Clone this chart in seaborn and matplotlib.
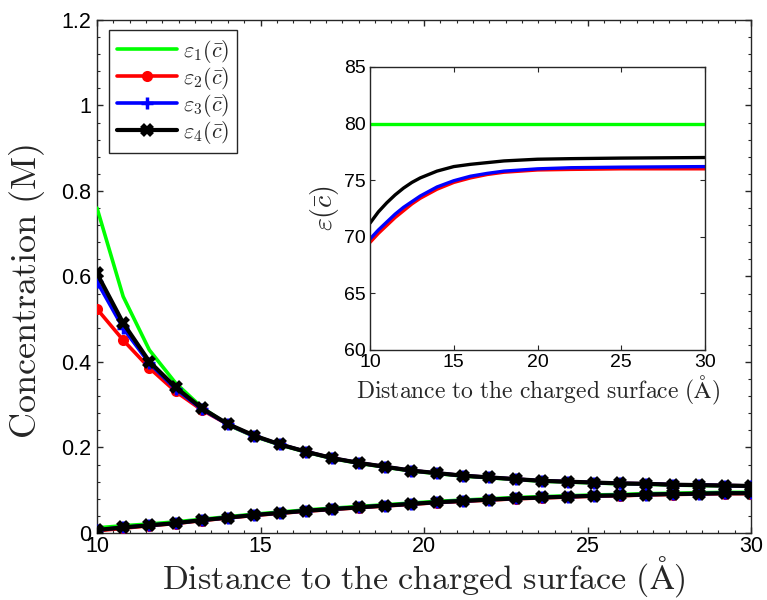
import numpy as np
import pandas as pd
import matplotlib
matplotlib.use("Agg")
import matplotlib.pyplot as plt
import seaborn as sns
from matplotlib.ticker import MultipleLocator, FuncFormatter

# ---------------- data ----------------
distance = [10.0, 10.8, 11.6, 12.4, 13.2, 14.0, 14.8, 15.6, 16.4, 17.2, 18.0, 18.8, 19.6,
            20.4, 21.2, 22.0, 22.8, 23.6, 24.4, 25.2, 26.0, 26.8, 27.6, 28.4, 29.2, 30.0]

counter_eps1 = [0.760, 0.553, 0.428, 0.351, 0.294, 0.253, 0.226, 0.206, 0.189, 0.174, 0.163, 0.154, 0.145,
                0.139, 0.133, 0.129, 0.125, 0.121, 0.119, 0.117, 0.115, 0.114, 0.112, 0.111, 0.110, 0.109]
counter_eps2 = [0.524, 0.451, 0.386, 0.331, 0.288, 0.254, 0.227, 0.207, 0.190, 0.175, 0.164, 0.155, 0.146,
                0.140, 0.134, 0.130, 0.126, 0.122, 0.120, 0.118, 0.116, 0.115, 0.113, 0.112, 0.111, 0.110]
counter_eps3 = [0.588, 0.479, 0.397, 0.337, 0.290, 0.254, 0.227, 0.207, 0.190, 0.175, 0.164, 0.155, 0.146,
                0.140, 0.134, 0.130, 0.126, 0.122, 0.120, 0.118, 0.116, 0.115, 0.113, 0.112, 0.111, 0.110]
counter_eps4 = [0.607, 0.491, 0.401, 0.341, 0.292, 0.255, 0.228, 0.207, 0.190, 0.175, 0.164, 0.155, 0.146,
                0.140, 0.134, 0.130, 0.126, 0.122, 0.120, 0.118, 0.116, 0.115, 0.113, 0.112, 0.111, 0.110]

co_eps1 = [0.012, 0.017, 0.021, 0.026, 0.032, 0.038, 0.044, 0.049, 0.054, 0.058, 0.062, 0.066, 0.070,
           0.074, 0.077, 0.080, 0.083, 0.085, 0.087, 0.089, 0.090, 0.092, 0.093, 0.094, 0.095, 0.095]
co_eps2 = [0.005, 0.011, 0.017, 0.022, 0.029, 0.035, 0.041, 0.046, 0.051, 0.055, 0.059, 0.063, 0.067,
           0.071, 0.074, 0.077, 0.080, 0.082, 0.084, 0.086, 0.087, 0.089, 0.090, 0.091, 0.092, 0.092]
co_eps3 = [0.007, 0.013, 0.018, 0.023, 0.030, 0.036, 0.042, 0.047, 0.052, 0.056, 0.060, 0.064, 0.068,
           0.072, 0.075, 0.078, 0.081, 0.083, 0.085, 0.087, 0.088, 0.090, 0.091, 0.092, 0.093, 0.093]
co_eps4 = [0.007, 0.013, 0.018, 0.023, 0.030, 0.036, 0.042, 0.047, 0.052, 0.056, 0.060, 0.064, 0.068,
           0.072, 0.075, 0.078, 0.081, 0.083, 0.085, 0.087, 0.088, 0.090, 0.091, 0.092, 0.093, 0.093]

inset_distance = [10, 10.5, 11, 11.5, 12, 12.5, 13, 14, 15, 16, 17, 18, 20, 22, 25, 30]
perm_eps1 = [80.0] * len(inset_distance)
perm_eps2 = [69.5, 70.3, 71.0, 71.7, 72.3, 72.9, 73.4, 74.2, 74.8, 75.2, 75.5, 75.7, 75.9, 75.95, 76.0, 76.0]
perm_eps3 = [69.8, 70.6, 71.3, 72.0, 72.6, 73.1, 73.6, 74.4, 74.95, 75.35, 75.6, 75.8, 76.0, 76.1, 76.15, 76.2]
perm_eps4 = [71.2, 72.2, 73.0, 73.7, 74.3, 74.8, 75.2, 75.8, 76.2, 76.4, 76.55, 76.7, 76.85, 76.9, 76.95, 77.0]

labels = [r'$\varepsilon_1(\bar{c})$', r'$\varepsilon_2(\bar{c})$',
          r'$\varepsilon_3(\bar{c})$', r'$\varepsilon_4(\bar{c})$']
colors = ['#00ff00', '#ff0000', '#0000ff', '#000000']

# ---------------- style ----------------
sns.set_theme(style='ticks')
plt.rcParams['font.family'] = ['Liberation Sans', 'DejaVu Sans']
plt.rcParams['mathtext.fontset'] = 'cm'
axcol = '#262626'
plt.rcParams.update({
    'axes.edgecolor': axcol, 'axes.linewidth': 1.0,
    'xtick.color': axcol, 'ytick.color': axcol,
    'xtick.labelcolor': 'black', 'ytick.labelcolor': 'black',
    'xtick.direction': 'in', 'ytick.direction': 'in',
})

fig = plt.figure(figsize=(7.67, 6.0), dpi=100)
ax = fig.add_axes([0.1265, 0.1117, 0.8527, 0.855])

styles = [dict(marker=None),
          dict(marker='o', markersize=8, markeredgewidth=0),
          dict(marker='+', markersize=9, markeredgewidth=2.5),
          dict(marker='x', markersize=7, markeredgewidth=4)]
lws = [2.6, 2.6, 2.6, 3.0]
counters = [counter_eps1, counter_eps2, counter_eps3, counter_eps4]
cos = [co_eps1, co_eps2, co_eps3, co_eps4]

handles = []
for i in range(4):
    df_up = pd.DataFrame({'x': distance, 'y': counters[i]})
    df_lo = pd.DataFrame({'x': distance, 'y': cos[i]})
    for j, df in enumerate([df_up, df_lo]):
        sns.lineplot(data=df, x='x', y='y', ax=ax, color=colors[i], lw=lws[i],
                     sort=False, zorder=3 + i, markeredgecolor=colors[i],
                     markerfacecolor=colors[i], **styles[i])
        if j == 0:
            handles.append(ax.lines[-1])

ax.set_xlim(10, 30)
ax.set_ylim(0, 1.2)
ax.xaxis.set_major_locator(MultipleLocator(5))
ax.xaxis.set_minor_locator(MultipleLocator(0.5))
ax.yaxis.set_major_locator(MultipleLocator(0.2))
ax.yaxis.set_minor_locator(MultipleLocator(0.04))
ax.yaxis.set_major_formatter(FuncFormatter(lambda v, p: ('%g' % round(v, 2))))
ax.tick_params(which='both', top=True, right=True)
ax.tick_params(which='major', length=4.5, width=1, labelsize=15.5, pad=4)
ax.tick_params(axis='x', which='major', pad=2.5)
ax.tick_params(which='minor', length=2.5, width=0.8)
for s in ax.spines.values():
    s.set_visible(True)
ax.set_xlabel(r'$\mathrm{Distance\ to\ the\ charged\ surface\ (\AA)}$', fontsize=24.5)
ax.xaxis.label.set_va('baseline')
ax.xaxis.set_label_coords(0.5, -0.109)
ax.set_ylabel(r'$\mathrm{Concentration\ (M)}$', fontsize=26)
ax.yaxis.set_label_coords(-0.076, 0.47)

leg = ax.legend(handles, labels, loc='upper left', bbox_to_anchor=(0.019, 0.981),
                fontsize=16, frameon=True, fancybox=False, framealpha=1,
                edgecolor=axcol, handlelength=2.7, borderpad=0.35, labelspacing=0.0,
                handletextpad=0.25, borderaxespad=0)
leg.get_frame().set_linewidth(1.0)

# ---------------- inset ----------------
ins = fig.add_axes([0.4824, 0.4167, 0.4368, 0.4717])
perms = [perm_eps1, perm_eps2, perm_eps3, perm_eps4]
for i in [0, 1, 2, 3]:
    df = pd.DataFrame({'x': inset_distance, 'y': perms[i]})
    sns.lineplot(data=df, x='x', y='y', ax=ins, color=colors[i], lw=2.4, sort=False)
ins.set_xlim(10, 30)
ins.set_ylim(60, 85)
ins.xaxis.set_major_locator(MultipleLocator(5))
ins.yaxis.set_major_locator(MultipleLocator(5))
ins.tick_params(which='both', top=True, right=True)
ins.tick_params(which='major', length=3.5, width=0.8, labelsize=14, pad=3)
ins.set_xlabel(r'$\mathrm{Distance\ to\ the\ charged\ surface\ (\AA)}$', fontsize=17, labelpad=2)
ins.set_ylabel(r'$\varepsilon(\bar{c})$', fontsize=20, labelpad=2)
for s in ins.spines.values():
    s.set_visible(True)

fig.savefig('out.png', dpi=100)
